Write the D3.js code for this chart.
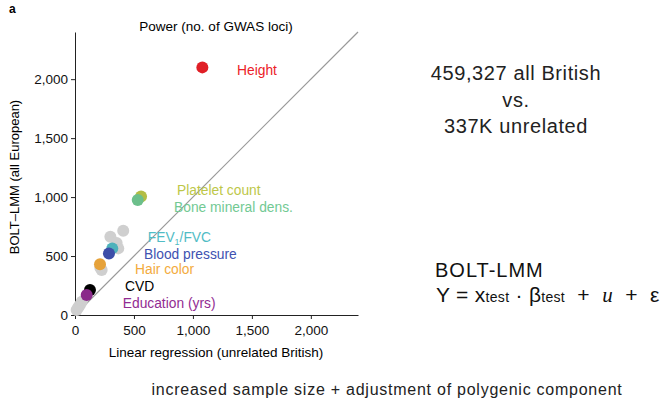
<html>
  <head>
    <meta charset="UTF-8" />
    <script src="https://cdnjs.cloudflare.com/ajax/libs/d3/7.8.5/d3.min.js" type="text/JavaScript"></script>
    <style>
      body { margin: 0; background: #fff; }
      text { font-family: "Liberation Sans", Arial, Helvetica, sans-serif; }
    </style>
  </head>
  <body>
    <svg id="viz" width="661" height="402"></svg>
    <script>
      // linear regression (unrelated British) vs BOLT-LMM (all European), no. of loci
      const traits = ["Height", "Platelet count", "Bone mineral dens.", "FEV1/FVC",
        "Blood pressure", "Hair color", "CVD", "Education (yrs)"];
      const linregLoci = [1080, 560, 532, 316, 288, 212, 127, 99];
      const boltLoci = [2100, 1005, 975, 565, 522, 430, 212, 169];
      const traitColors = ["#e01f26", "#b3bd44", "#6cbf8b", "#4db2bb", "#3d4ea8", "#e6a23a", "#000000", "#8a2a8a"];
      // where each trait's label sits, in data units
      const labelX = [1374, 865, 840, 617, 585, 509, 424, 405];
      const labelY = [2035, 1018, 876, 622, 472, 345, 204, 62];

      // other traits, drawn grey
      const otherLinreg = [409, 300, 353, 367, 226, 215, 57, 42, 28, 14];
      const otherBolt = [714, 664, 610, 565, 381, 400, 113, 85, 66, 42];

      const ticks = [0, 500, 1000, 1500, 2000];

      const svg = d3.select("#viz");
      const x = d3.scaleLinear().domain([0, 2400]).range([75, 358]);
      const y = d3.scaleLinear().domain([0, 2400]).range([315, 32]);

      svg.append("text").attr("x", 9).attr("y", 13)
        .style("font-weight", "bold").style("font-size", "12px").text("a");

      svg.append("text").attr("x", 216).attr("y", 31)
        .attr("text-anchor", "middle").style("font-size", "13.5px")
        .text("Power (no. of GWAS loci)");

      const fmt = d3.format(",");

      const gx = svg.append("g").attr("transform", "translate(0,315)")
        .call(d3.axisBottom(x).tickValues(ticks).tickFormat(fmt).tickSize(4).tickSizeOuter(0));
      const gy = svg.append("g").attr("transform", "translate(75,0)")
        .call(d3.axisLeft(y).tickValues(ticks).tickFormat(fmt).tickSize(4).tickSizeOuter(0));
      [gx, gy].forEach(g => {
        g.selectAll("text").style("font-size", "13.5px").style("font-family", "Liberation Sans, Arial, sans-serif").attr("fill", "#111");
        g.selectAll("line,path").attr("stroke", "#222");
      });
      gx.selectAll("text").attr("dy", "0.95em");
      gy.selectAll("text").attr("x", -7);

      svg.append("text").attr("x", 216).attr("y", 357)
        .attr("text-anchor", "middle").style("font-size", "13.5px")
        .text("Linear regression (unrelated British)");
      svg.append("text").attr("transform", "translate(19,177) rotate(-90)")
        .attr("text-anchor", "middle").style("font-size", "13px")
        .text("BOLT\u2013LMM (all European)");

      svg.append("line")
        .attr("x1", x(0)).attr("y1", y(0)).attr("x2", x(2400)).attr("y2", y(2400))
        .attr("stroke", "#999").attr("stroke-width", 1.2);

      svg.selectAll(".other").data(otherLinreg).enter().append("circle")
        .attr("class", "other")
        .attr("cx", d => x(d)).attr("cy", (d, i) => y(otherBolt[i]))
        .attr("r", 6).attr("fill", "#cfcfcf");

      svg.selectAll(".trait").data(traits).enter().append("circle")
        .attr("class", "trait")
        .attr("cx", (d, i) => x(linregLoci[i])).attr("cy", (d, i) => y(boltLoci[i]))
        .attr("r", 6).attr("fill", (d, i) => traitColors[i]);

      const labels = svg.selectAll(".lab").data(traits).enter().append("text")
        .attr("class", "lab")
        .attr("x", (d, i) => x(labelX[i])).attr("y", (d, i) => y(labelY[i]))
        .style("font-size", "13.8px")
        .attr("fill", (d, i) => traitColors[i] === "#000000" ? "#000" : d3.color(traitColors[i]).brighter(0.15));
      labels.each(function(d) {
        const t = d3.select(this);
        if (d === "FEV1/FVC") {
          t.append("tspan").text("FEV");
          t.append("tspan").attr("dy", 3).style("font-size", "9px").text("1");
          t.append("tspan").attr("dy", -3).text("/FVC");
        } else {
          t.text(d);
        }
      });

      // right-hand annotations
      const note = svg.append("text").attr("text-anchor", "middle")
        .style("font-size", "20px").style("letter-spacing", "0.6px").attr("fill", "#222");
      ["459,327 all British", "vs.", "337K unrelated"].forEach((s, i) => {
        note.append("tspan").attr("x", 516).attr("y", 80 + i * 26.5).text(s);
      });

      svg.append("text").attr("x", 435).attr("y", 277)
        .style("font-size", "20px").style("letter-spacing", "1px")
        .attr("fill", "#111").text("BOLT-LMM");

      const eq = svg.append("text").attr("x", 436).attr("y", 302)
        .style("font-size", "21px").style("letter-spacing", "0.3px")
        .attr("fill", "#111").attr("xml:space", "preserve");
      eq.append("tspan").text("Y = x");
      eq.append("tspan").style("font-size", "14px").text("test");
      eq.append("tspan").text(" \u00b7 \u03b2");
      eq.append("tspan").style("font-size", "14px").text("test");
      eq.append("tspan").text("  +  ");
      eq.append("tspan").style("font-family", "Liberation Serif, DejaVu Serif, serif")
        .style("font-style", "italic").text("u");
      eq.append("tspan").text("  +  \u03b5");

      svg.append("text").attr("x", 387).attr("y", 395)
        .attr("text-anchor", "middle").style("font-size", "16px").style("letter-spacing", "0.75px")
        .attr("fill", "#222")
        .text("increased sample size + adjustment of polygenic component");
    </script>
  </body>
</html>
